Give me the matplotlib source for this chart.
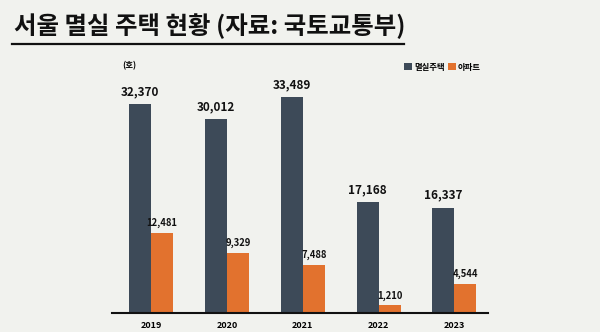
import matplotlib
matplotlib.use('Agg')
import matplotlib.pyplot as plt
import numpy as np

plt.rcParams['font.family'] = ['Noto Sans CJK KR', 'DejaVu Sans']

years = ['2019', '2020', '2021', '2022', '2023']
demolished = [32370, 30012, 33489, 17168, 16337]
apartments = [12481, 9329, 7488, 1210, 4544]

BG = '#f1f2ee'
DARK = '#3d4a58'
ORANGE = '#e2722e'

fig = plt.figure(figsize=(6, 3.32), dpi=100, facecolor=BG)
ax = fig.add_axes([0.187, 0.057, 0.627, 0.762])
ax.set_facecolor(BG)

x = np.arange(len(years))
w = 0.29
b1 = ax.bar(x - w / 2, demolished, w, color=DARK, label='멸실주택')
b2 = ax.bar(x + w / 2, apartments, w, color=ORANGE, label='아파트')

for rect, v in zip(b1, demolished):
    ax.text(rect.get_x() + rect.get_width() / 2, v + 900, f'{v:,}', ha='center', va='bottom',
            fontsize=8.5, fontweight='bold', color='#111111')
for rect, v in zip(b2, apartments):
    ax.text(rect.get_x() + rect.get_width() / 2, v + 700, f'{v:,}', ha='center', va='bottom',
            fontsize=6.8, fontweight='bold', color='#111111')

ax.set_xlim(-0.515, 4.45)
ax.set_ylim(0, 39200)
ax.set_xticks(x)
ax.set_xticklabels(years, fontsize=6.5, fontweight='bold')
ax.tick_params(axis='x', length=0, pad=6)
ax.set_yticks([])
for s in ['top', 'left', 'right']:
    ax.spines[s].set_visible(False)
ax.spines['bottom'].set_linewidth(1.5)
ax.spines['bottom'].set_color('#111111')

ax.legend(loc='upper right', bbox_to_anchor=(1.0, 1.02), ncol=2, frameon=False,
          handlelength=0.9, handleheight=0.9, handletextpad=0.3,
          columnspacing=0.4, prop={'weight': 'bold', 'size': 6})

fig.text(122 / 600, 1 - 66 / 332, '(호)', fontsize=6, fontweight='bold', va='center', ha='left')

# title with underline
fig.text(14 / 600, 1 - 26 / 332, '서울 멸실 주택 현황 (자료: 국토교통부)', fontsize=17.6,
         fontweight='black', va='center', ha='left', color='#111111')
fig.add_artist(plt.Line2D([12 / 600, 404 / 600], [1 - 44 / 332, 1 - 44 / 332],
                          color='#111111', linewidth=1.6))

fig.savefig('out.png', dpi=100, facecolor=BG)
